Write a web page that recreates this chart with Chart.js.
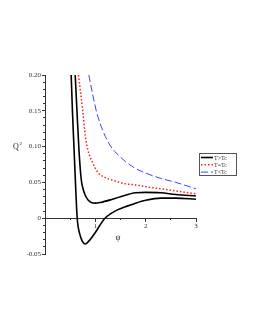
<!DOCTYPE html>
<html>
<head>
<meta charset="utf-8">
<script src="https://cdn.jsdelivr.net/npm/chart.js@4.4.1/dist/chart.umd.min.js"></script>
<style>
  html, body { margin: 0; padding: 0; background: #fff; }
  #wrap { width: 255px; height: 330px; }
</style>
</head>
<body>
<div id="wrap"><canvas id="qChart" width="255" height="330"></canvas></div>
<script>
// values
const psiA = [0.52, 0.545, 0.575, 0.605, 0.64, 0.69, 0.74, 0.80, 0.87, 0.99, 1.10, 1.19, 1.30, 1.45, 1.60, 1.80, 2.00, 2.30, 2.60, 3.00];
const qA   = [0.20, 0.15, 0.10, 0.05, 0.0, -0.022, -0.032, -0.036, -0.032, -0.021, -0.009, 0.0, 0.006, 0.012, 0.016, 0.021, 0.025, 0.028, 0.028, 0.0265];

const psiB = [0.60, 0.635, 0.675, 0.72, 0.76, 0.80, 0.86, 0.92, 1.00, 1.10, 1.30, 1.50, 1.80, 2.00, 2.30, 2.60, 3.00];
const qB   = [0.20, 0.15, 0.095, 0.054, 0.040, 0.032, 0.025, 0.022, 0.021, 0.022, 0.0256, 0.030, 0.0355, 0.036, 0.0355, 0.033, 0.031];

const psiC = [0.665, 0.75, 0.80, 0.853, 0.95, 1.05, 1.19, 1.37, 1.60, 1.80, 2.00, 2.30, 2.60, 3.00];
const qC   = [0.20, 0.15, 0.115, 0.095, 0.077, 0.064, 0.057, 0.0525, 0.048, 0.0465, 0.044, 0.041, 0.038, 0.034];

const psiD = [0.87, 0.95, 1.03, 1.15, 1.29, 1.39, 1.60, 1.79, 2.00, 2.29, 2.60, 3.00];
const qD   = [0.20, 0.172, 0.147, 0.122, 0.102, 0.093, 0.079, 0.0698, 0.063, 0.0558, 0.050, 0.041];

const seriesNames = ['T>Tc', 'T>Tc', 'T=Tc', 'T<Tc'];
const legendNames = ['T>Tc', 'T=Tc', 'T<Tc'];

function pts(xs, ys) {
    return xs.map(function(x, i) { return { x: x, y: ys[i] }; });
}

const serif = "'Liberation Serif', 'DejaVu Serif', serif";

// axis titles (upright Q^2, psi) and the boxed legend
const extras = {
    id: 'extras',
    afterDraw(chart) {
        const ctx = chart.ctx;
        ctx.save();
        ctx.fillStyle = '#222';
        ctx.textBaseline = 'alphabetic';
        ctx.font = '8px ' + serif;
        ctx.fillText('Q', 13, 149);
        ctx.font = '5px ' + serif;
        ctx.fillText('2', 19.5, 145);
        ctx.font = '8px ' + serif;
        ctx.textAlign = 'center';
        ctx.fillText('\u03c8', 118, 240);

        // legend
        const x0 = 199.5, y0 = 153.5, w = 37, h = 22;
        ctx.strokeStyle = '#555';
        ctx.lineWidth = 1;
        ctx.setLineDash([]);
        ctx.strokeRect(x0, y0, w, h);
        const rows = [1, 2, 3];
        ctx.textAlign = 'left';
        ctx.textBaseline = 'middle';
        ctx.font = '6px ' + serif;
        rows.forEach(function(di, r) {
            const ds = chart.data.datasets[di];
            const yy = y0 + 4 + r * 7.3;
            ctx.strokeStyle = ds.borderColor;
            ctx.lineWidth = ds.borderWidth;
            ctx.setLineDash(ds.borderDash || []);
            ctx.beginPath();
            ctx.moveTo(x0 + 1.5, yy);
            ctx.lineTo(x0 + 13.5, yy);
            ctx.stroke();
            ctx.fillStyle = '#333';
            ctx.fillText(legendNames[r], x0 + 14.5, yy + 0.5);
        });
        ctx.restore();
    }
};

document.addEventListener('DOMContentLoaded', function() {
    const qCtx = document.getElementById('qChart');
    new Chart(qCtx, {
        type: 'line',
        data: {
            datasets: [{
                label: seriesNames[0],
                data: pts(psiA, qA),
                borderColor: '#000',
                borderWidth: 1.6,
                xAxisID: 'x',
                yAxisID: 'y'
            }, {
                label: seriesNames[1],
                data: pts(psiB, qB),
                borderColor: '#000',
                borderWidth: 1.6,
                xAxisID: 'x',
                yAxisID: 'y'
            }, {
                label: seriesNames[2],
                data: pts(psiC, qC),
                borderColor: '#ff1a1a',
                borderWidth: 1.5,
                borderDash: [1.5, 2],
                xAxisID: 'x',
                yAxisID: 'y'
            }, {
                label: seriesNames[3],
                data: pts(psiD, qD),
                borderColor: '#4040ff',
                borderWidth: 1,
                borderDash: [7, 3],
                xAxisID: 'x',
                yAxisID: 'y'
            }]
        },
        options: {
            responsive: false,
            animation: false,
            devicePixelRatio: 1,
            layout: { padding: { left: 0, top: 75, right: 59, bottom: 76 } },
            elements: {
                point: { radius: 0 },
                line: { cubicInterpolationMode: 'monotone', fill: false }
            },
            plugins: {
                legend: { display: false },
                tooltip: { enabled: false }
            },
            scales: {
                x: {
                    type: 'linear',
                    position: { y: 0 },
                    min: 0,
                    max: 3,
                    afterFit: function(s) { s.height = 0; },
                    border: { display: true, color: '#333', width: 1 },
                    grid: { drawOnChartArea: false, tickLength: 3, color: '#333' },
                    ticks: {
                        stepSize: 1,
                        padding: 1,
                        color: '#333',
                        font: { family: serif, size: 7 },
                        maxRotation: 0,
                        callback: function(v) { return v === 0 ? '' : String(v); }
                    }
                },
                xMinor: {
                    axis: 'x',
                    type: 'linear',
                    position: { y: 0 },
                    min: 0,
                    max: 3,
                    afterFit: function(s) { s.height = 0; },
                    border: { display: false },
                    grid: { drawOnChartArea: false, tickLength: 2, color: '#333' },
                    ticks: { stepSize: 0.5, display: false }
                },
                y: {
                    type: 'linear',
                    position: 'left',
                    min: -0.05,
                    max: 0.2,
                    afterFit: function(s) { s.width = 45; },
                    border: { display: true, color: '#333', width: 1 },
                    grid: { drawOnChartArea: false, tickLength: 3, color: '#333' },
                    ticks: {
                        stepSize: 0.05,
                        padding: 1,
                        color: '#333',
                        font: { family: serif, size: 7 },
                        callback: function(v) { return Math.abs(v) < 1e-9 ? '0' : v.toFixed(2); }
                    }
                },
                yMinor: {
                    axis: 'y',
                    type: 'linear',
                    position: { x: 0 },
                    min: -0.05,
                    max: 0.2,
                    afterFit: function(s) { s.width = 0; },
                    border: { display: false },
                    grid: { drawOnChartArea: false, tickLength: 2, color: '#333' },
                    ticks: { stepSize: 0.01, display: false }
                }
            }
        },
        plugins: [extras]
    });
});
</script>
</body>
</html>
